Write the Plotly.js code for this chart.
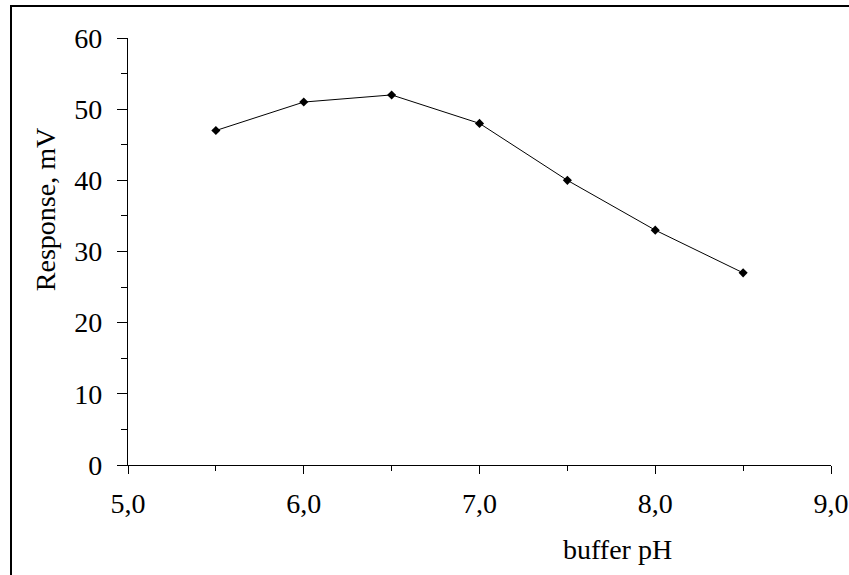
<!DOCTYPE html>
<html>
<head>
<meta charset="utf-8">
<script src="https://cdn.plot.ly/plotly-3.0.1.min.js"></script>
<style>
  html, body { margin: 0; padding: 0; background: #fff; }
  #wrap { position: relative; width: 849px; height: 575px; overflow: hidden; }
  #chart { width: 849px; height: 575px; }
  #frame { position: absolute; left: 10px; top: 5px; width: 900px; height: 700px;
           border-left: 2.5px solid #000; border-top: 2.5px solid #000; pointer-events: none; }
</style>
</head>
<body>
<div id="wrap">
  <div id="chart"></div>
  <div id="frame"></div>
</div>
<script>
const phValues = [5.5, 6.0, 6.5, 7.0, 7.5, 8.0, 8.5];
const responseMV = [47, 51, 52, 48, 40, 33, 27];
const xTickVals = [5, 6, 7, 8, 9];
const xTickText = ['5,0', '6,0', '7,0', '8,0', '9,0'];
const yTickVals = [0, 10, 20, 30, 40, 50, 60];
const yTickText = ['0', '10', '20', '30', '40', '50', '60'];

const fontFam = '"Liberation Serif", "DejaVu Serif", serif';
const fs = 28;

const trace = {
  x: phValues,
  y: responseMV,
  type: 'scatter',
  mode: 'lines+markers',
  line: { color: '#000', width: 1 },
  marker: { symbol: 'diamond', size: 7, color: '#000' },
  hoverinfo: 'x+y'
};

const layout = {
  width: 849,
  height: 575,
  margin: { l: 128, r: 18, t: 38, b: 110 },
  paper_bgcolor: '#fff',
  plot_bgcolor: '#fff',
  showlegend: false,
  font: { family: fontFam, size: fs, color: '#000' },
  xaxis: {
    range: [5, 9],
    tickvals: xTickVals,
    ticktext: xTickText,
    ticks: 'outside',
    ticklen: 8,
    tickwidth: 1,
    tickcolor: '#000',
    ticklabelstandoff: 5,
    showline: true,
    linecolor: '#000',
    linewidth: 1.2,
    showgrid: false,
    zeroline: false,
    minor: { dtick: 0.5, tick0: 5, ticks: 'outside', ticklen: 5, tickcolor: '#000', tickwidth: 1, showgrid: false },
    tickfont: { family: fontFam, size: fs, color: '#000' }
  },
  yaxis: {
    range: [0, 60],
    tickvals: yTickVals,
    ticktext: yTickText,
    ticks: 'outside',
    ticklen: 10,
    tickwidth: 1,
    tickcolor: '#000',
    ticklabelstandoff: 9,
    showline: true,
    linecolor: '#000',
    linewidth: 1.2,
    showgrid: false,
    zeroline: false,
    minor: { dtick: 5, tick0: 0, ticks: 'outside', ticklen: 6, tickcolor: '#000', tickwidth: 1, showgrid: false },
    tickfont: { family: fontFam, size: fs, color: '#000' }
  },
  annotations: [{
    text: 'buffer pH',
    xref: 'paper', yref: 'paper',
    x: 0.697, y: -0.197,
    xanchor: 'center', yanchor: 'middle',
    showarrow: false,
    font: { family: fontFam, size: fs, color: '#000' }
  }, {
    text: 'Response, mV',
    xref: 'paper', yref: 'paper',
    x: -0.118, y: 0.597,
    xanchor: 'center', yanchor: 'middle',
    textangle: -90,
    showarrow: false,
    font: { family: fontFam, size: fs, color: '#000' }
  }]
};

Plotly.newPlot('chart', [trace], layout, { displayModeBar: false, staticPlot: true });
</script>
</body>
</html>
